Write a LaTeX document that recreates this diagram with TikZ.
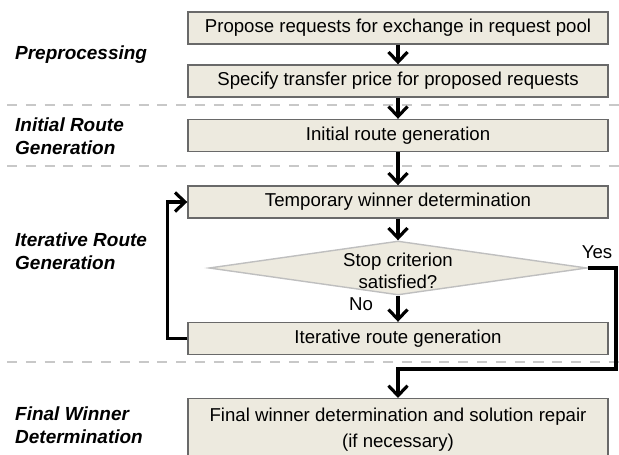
\documentclass[tikz,border=0pt]{standalone}
\usepackage{fontspec}
\setmainfont{Liberation Sans}
\usetikzlibrary{arrows.meta, shapes.geometric, positioning}
\definecolor{BoxFill}{RGB}{237,234,223}
\definecolor{BoxLine}{RGB}{105,105,105}
\definecolor{SepGray}{RGB}{200,200,200}

\begin{document}
\begin{tikzpicture}[font=\fontsize{10.6}{12.6}\selectfont,
	stepbox/.style={rectangle, draw=BoxLine, thick, fill=BoxFill, minimum width=8.4cm, minimum height=0.64cm, inner sep=0pt},
	decision/.style={diamond, draw=gray!50, thick, fill=BoxFill, minimum width=7.56cm, minimum height=1.08cm, inner sep=0pt},
	phase/.style={anchor=west, align=left, font=\fontsize{10.8}{12.9}\selectfont\bfseries\itshape},
	flow/.style={-{Straight Barb[length=2mm, width=3.8mm]}, line width=1.8pt},
	phaseline/.style={SepGray, line width=1.7pt, dash pattern=on 5.7pt off 5pt}]
	\useasboundingbox (0,0) rectangle (12.38,9.08);
	% phase separators
	\foreach \y in {6.98, 5.76, 1.84}{\draw[phaseline] (0.14,\y) -- (12.38,\y);}
	% phase names
	\node[phase] (pre) at (0.18,7.98) {Preprocessing};
	\node[phase] (init) at (0.18,6.36) {Initial Route\\Generation};
	\node[phase] (iterp) at (0.18,4.05) {Iterative Route\\Generation};
	\node[phase] (fin) at (0.18,0.58) {Final Winner\\Determination};
	% steps
	\node[stepbox] (propose) at (7.96,8.52) {Propose requests for exchange in request pool};
	\node[stepbox] (price) at (7.96,7.46) {Specify transfer price for proposed requests};
	\node[stepbox] (initroute) at (7.96,6.37) {Initial route generation};
	\node[stepbox] (temp) at (7.96,5.04) {Temporary winner determination};
	\node[decision] (stop) at (7.96,3.72) {};
	\node[align=center] (stoptxt) at (7.96,3.66) {Stop criterion\\satisfied?};
	\node[stepbox] (iterroute) at (7.96,2.31) {Iterative route generation};
	\node[stepbox, anchor=north, minimum height=1.6cm] (final) at (7.96,1.12) {};
	\node[align=center, font=\fontsize{10.6}{14.8}\selectfont] (finaltxt) at (7.96,0.48) {Final winner determination and solution repair\\(if necessary)};
	% flow
	\draw[flow] (propose) -- (price);
	\draw[flow] (price) -- (initroute);
	\draw[flow] (initroute) -- (temp);
	\draw[flow] (temp) -- (stop);
	\draw[flow] (stop) -- (iterroute);
	\draw[flow] (iterroute.west) -- ++(-0.4,0) |- (temp.west);
	\coordinate (yesturn) at (12.32,1.7);
	\draw[flow] (stop.east) -| (yesturn) -| (final.north);
	\node (yes) at (11.94,4.04) {Yes};
	\node (no) at (7.22,3.0) {No};
\end{tikzpicture}
\end{document}
